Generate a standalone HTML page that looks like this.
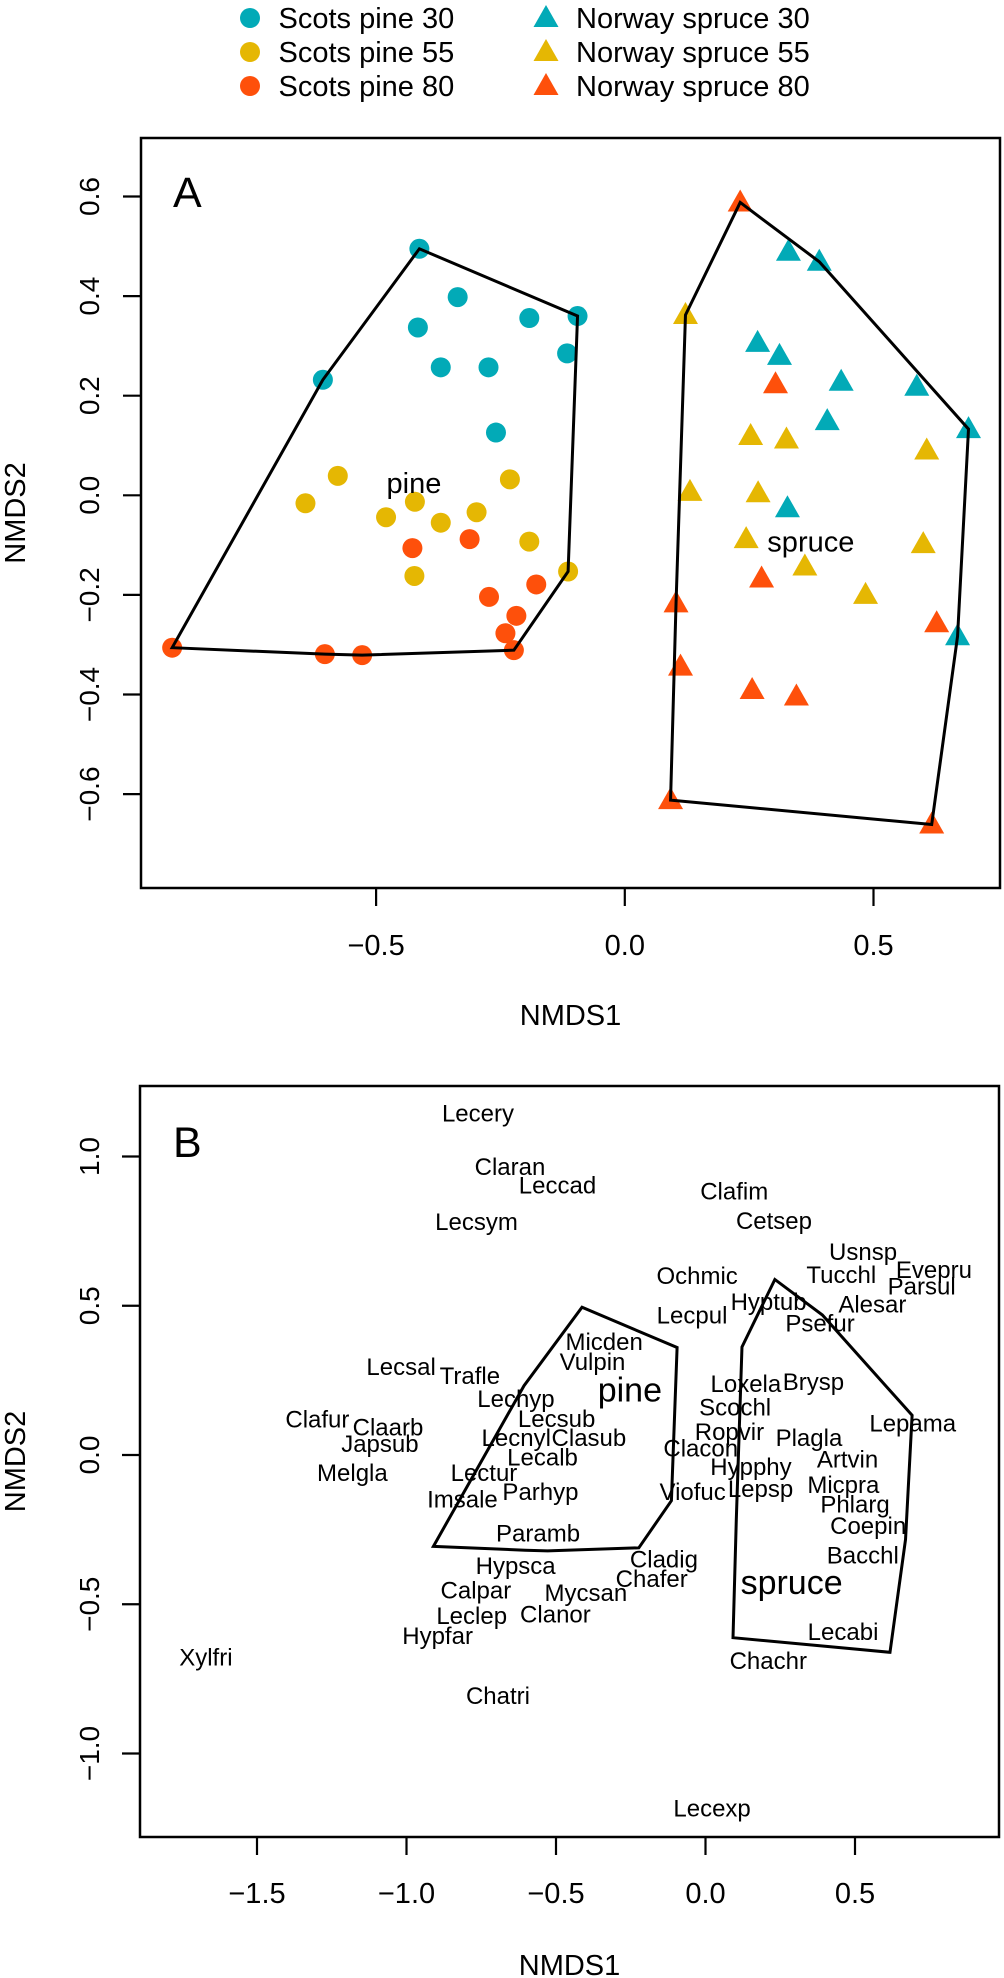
<!DOCTYPE html>
<html><head><meta charset="utf-8"><style>
html,body{margin:0;padding:0;background:#fff}
svg{display:block;font-family:"Liberation Sans",Arial,sans-serif}
</style></head><body>
<svg id="fig" width="1004" height="1978" viewBox="0 0 1004 1978" xmlns="http://www.w3.org/2000/svg">
<g id="legend"></g>
<g id="panelA"></g>
<g id="panelB"></g>
</svg>
<script>
// ---- Panel A data (NMDS1, NMDS2) ----
const pine30x=[-0.607,-0.413,-0.336,-0.416,-0.370,-0.274,-0.259,-0.192,-0.095,-0.116];
const pine30y=[0.232,0.495,0.398,0.337,0.257,0.257,0.126,0.356,0.360,0.285];
const pine55x=[-0.577,-0.642,-0.422,-0.480,-0.370,-0.298,-0.231,-0.192,-0.423,-0.114];
const pine55y=[0.039,-0.016,-0.013,-0.044,-0.055,-0.034,0.032,-0.093,-0.162,-0.153];
const pine80x=[-0.427,-0.312,-0.178,-0.273,-0.218,-0.240,-0.223,-0.910,-0.603,-0.528];
const pine80y=[-0.106,-0.088,-0.179,-0.204,-0.242,-0.277,-0.311,-0.306,-0.319,-0.321];
const spr30x=[0.329,0.391,0.267,0.311,0.435,0.407,0.327,0.587,0.691,0.669];
const spr30y=[0.489,0.469,0.306,0.280,0.228,0.149,-0.026,0.218,0.133,-0.283];
const spr55x=[0.122,0.253,0.325,0.131,0.268,0.244,0.362,0.484,0.607,0.600];
const spr55y=[0.362,0.119,0.112,0.007,0.004,-0.088,-0.143,-0.200,0.090,-0.098];
const spr80x=[0.232,0.303,0.275,0.103,0.112,0.256,0.345,0.092,0.617,0.627];
const spr80y=[0.588,0.223,-0.167,-0.217,-0.344,-0.391,-0.404,-0.612,-0.661,-0.257];
const aTicksX=[-0.5,0.0,0.5];
const aTickLabelsX=["\u22120.5","0.0","0.5"];
const aTicksY=[0.6,0.4,0.2,0.0,-0.2,-0.4,-0.6];
const aTickLabelsY=["0.6","0.4","0.2","0.0","\u22120.2","\u22120.4","\u22120.6"];
const aGroupLabels=["pine","spruce"];
const aGroupLabelX=[-0.424,0.374];
const aGroupLabelY=[0.005,-0.113];
// ---- Panel B data (species scores) ----
const spNames=["Lecery","Claran","Leccad","Lecsym","Lecsal","Trafle","Lechyp","Clafur","Claarb","Japsub","Melgla","Lecsub","Lecnyl","Clasub","Lecalb","Lectur","Imsale","Parhyp","Paramb","Micden","Vulpin","Lecpul","Hyptub","Loxela","Brysp","Scochl","Ropvir","Clacon","Hypphy","Viofuc","Lepsp","Plagla","Ochmic","Clafim","Cetsep","Usnsp","Tucchl","Evepru","Parsul","Alesar","Psefur","Lepama","Artvin","Micpra","Phlarg","Coepin","Bacchl","Lecabi","Chachr","Cladig","Chafer","Mycsan","Clanor","Hypsca","Calpar","Leclep","Hypfar","Xylfri","Chatri","Lecexp"];
const spX=[-0.761,-0.654,-0.495,-0.766,-1.018,-0.788,-0.634,-1.298,-1.062,-1.089,-1.181,-0.498,-0.633,-0.390,-0.545,-0.741,-0.813,-0.552,-0.560,-0.339,-0.378,-0.045,0.211,0.135,0.361,0.099,0.080,-0.016,0.152,-0.043,0.184,0.346,-0.028,0.096,0.229,0.527,0.454,0.764,0.723,0.558,0.383,0.693,0.475,0.461,0.500,0.544,0.526,0.460,0.210,-0.139,-0.180,-0.400,-0.502,-0.635,-0.768,-0.782,-0.896,-1.671,-0.694,0.022];
const spY=[1.146,0.966,0.904,0.782,0.296,0.267,0.189,0.121,0.093,0.039,-0.058,0.123,0.059,0.059,-0.006,-0.058,-0.147,-0.123,-0.262,0.381,0.314,0.469,0.514,0.240,0.246,0.160,0.078,0.023,-0.039,-0.123,-0.112,0.059,0.602,0.885,0.785,0.682,0.604,0.622,0.566,0.506,0.443,0.108,-0.013,-0.099,-0.164,-0.236,-0.335,-0.591,-0.689,-0.348,-0.414,-0.461,-0.533,-0.370,-0.453,-0.537,-0.604,-0.677,-0.806,-1.183];
const bTicksX=[-1.5,-1.0,-0.5,0.0,0.5];
const bTickLabelsX=["\u22121.5","\u22121.0","\u22120.5","0.0","0.5"];
const bTicksY=[1.0,0.5,0.0,-0.5,-1.0];
const bTickLabelsY=["1.0","0.5","0.0","\u22120.5","\u22121.0"];
const bGroupLabels=["pine","spruce"];
const bGroupLabelX=[-0.253,0.288];
const bGroupLabelY=[0.179,-0.466];

const NS="http://www.w3.org/2000/svg";
const C_TEAL="#02AAB7",C_YEL="#E5B703",C_RED="#FE500B";
function mk(parent,tag,attrs){const e=document.createElementNS(NS,tag);for(const k in attrs)e.setAttribute(k,attrs[k]);parent.appendChild(e);return e;}
function txt(parent,x,y,s,size,anchor,rot){const e=mk(parent,"text",{x:0,y:0,"font-size":size,"text-anchor":anchor||"middle",fill:"#000",transform:"translate("+x+","+y+")"+(rot?" rotate("+rot+")":"")});e.textContent=s;return e;}
function hull(xs,ys){const p=xs.map((x,i)=>[x,ys[i]]).sort((a,b)=>a[0]-b[0]||a[1]-b[1]);const cr=(o,a,b)=>(a[0]-o[0])*(b[1]-o[1])-(a[1]-o[1])*(b[0]-o[0]);const lo=[],up=[];for(const q of p){while(lo.length>=2&&cr(lo[lo.length-2],lo[lo.length-1],q)<=0)lo.pop();lo.push(q);}for(let i=p.length-1;i>=0;i--){const q=p[i];while(up.length>=2&&cr(up[up.length-2],up[up.length-1],q)<=0)up.pop();up.push(q);}lo.pop();up.pop();return lo.concat(up);}
const pineX=pine30x.concat(pine55x,pine80x),pineY=pine30y.concat(pine55y,pine80y);
const sprX=spr30x.concat(spr55x,spr80x),sprY=spr30y.concat(spr55y,spr80y);

function frame(g,L,T,R,B,sx,sy,ticksX,labX,ticksY,labY,tickLabY,titleY,letter,letterY){
  const box=mk(g,"rect",{x:L,y:T,width:R-L,height:B-T,fill:"none",stroke:"#000","stroke-width":2.5});
  
  
  ticksX.forEach((v,i)=>{const t=mk(g,"line",{x1:sx(v),x2:sx(v),y1:B,y2:B+18,stroke:"#000","stroke-width":2.2});
    
    
    const l=txt(g,sx(v),tickLabY,labX[i],29);
    
    });
  ticksY.forEach((v,i)=>{const t=mk(g,"line",{x1:L-18,x2:L,y1:sy(v),y2:sy(v),stroke:"#000","stroke-width":2.2});
    
    
    const l=txt(g,99,sy(v),labY[i],28,"middle",-90);
    
    });
  const xt=txt(g,(L+R)/2,titleY,"NMDS1",29);
  
  
  const yt=txt(g,25,(T+B)/2,"NMDS2",29,"middle",-90);
  
  
  const pl=txt(g,173,letterY,letter,43,"start");
  
  
}
function drawHull(g,sx,sy,xs,ys,name){const h=hull(xs,ys);const pg=mk(g,"polygon",{points:h.map(p=>sx(p[0])+","+sy(p[1])).join(" "),fill:"none",stroke:"#000","stroke-width":3,"stroke-linejoin":"miter"});
  
  }
function circle(g,x,y,c){return mk(g,"circle",{cx:x,cy:y,r:10,fill:c});}
function tri(g,x,y,c){return mk(g,"polygon",{points:(x)+","+(y-13)+" "+(x-12.5)+","+(y+9)+" "+(x+12.5)+","+(y+9),fill:c});}

// Panel A
(function(){
  const g=document.getElementById("panelA");
  const sx=v=>624.8+v*497.4, sy=v=>495.3-v*498;
  frame(g,141,138,1000,888,sx,sy,aTicksX,aTickLabelsX,aTicksY,aTickLabelsY,955,1025,"A",207);
  const sets=[[pine30x,pine30y,C_TEAL,"c","pine-30-point"],[pine55x,pine55y,C_YEL,"c","pine-55-point"],[pine80x,pine80y,C_RED,"c","pine-80-point"],
    [spr30x,spr30y,C_TEAL,"t","spruce-30-point"],[spr55x,spr55y,C_YEL,"t","spruce-55-point"],[spr80x,spr80y,C_RED,"t","spruce-80-point"]];
  sets.forEach(s=>{s[0].forEach((x,i)=>{const e=s[3]=="c"?circle(g,sx(x),sy(s[1][i]),s[2]):tri(g,sx(x),sy(s[1][i]),s[2]);
    
    });});
  drawHull(g,sx,sy,pineX,pineY,"pine-hull");
  drawHull(g,sx,sy,sprX,sprY,"spruce-hull");
  aGroupLabels.forEach((s,i)=>{const t=txt(g,sx(aGroupLabelX[i]),sy(aGroupLabelY[i]),s,29);
    
    });
})();

// Panel B
(function(){
  const g=document.getElementById("panelB");
  const sx=v=>705.5+v*299, sy=v=>1455-v*298.5;
  frame(g,140,1086,999,1837,sx,sy,bTicksX,bTickLabelsX,bTicksY,bTickLabelsY,1903,1975,"B",1157);
  drawHull(g,sx,sy,pineX,pineY,"pine-hull");
  drawHull(g,sx,sy,sprX,sprY,"spruce-hull");
  spNames.forEach((s,i)=>{const t=txt(g,sx(spX[i]),sy(spY[i])+8.5,s,24);
    
    });
  bGroupLabels.forEach((s,i)=>{const t=txt(g,sx(bGroupLabelX[i]),sy(bGroupLabelY[i]),s,34);
    
    });
})();

// Legend
(function(){
  const g=document.getElementById("legend");
  const names=["Scots pine 30","Scots pine 55","Scots pine 80","Norway spruce 30","Norway spruce 55","Norway spruce 80"];
  const cols=[C_TEAL,C_YEL,C_RED,C_TEAL,C_YEL,C_RED];
  const rows=[18,52,86];
  names.forEach((n,i)=>{const r=rows[i%3];const isTri=i>=3;
    const m=isTri?tri(g,546,r,cols[i]):circle(g,250,r,cols[i]);
    
    
    const t=txt(g,isTri?576:278.5,r+10,n,29,"start");
    
    });
})();
</script>
</body></html>
